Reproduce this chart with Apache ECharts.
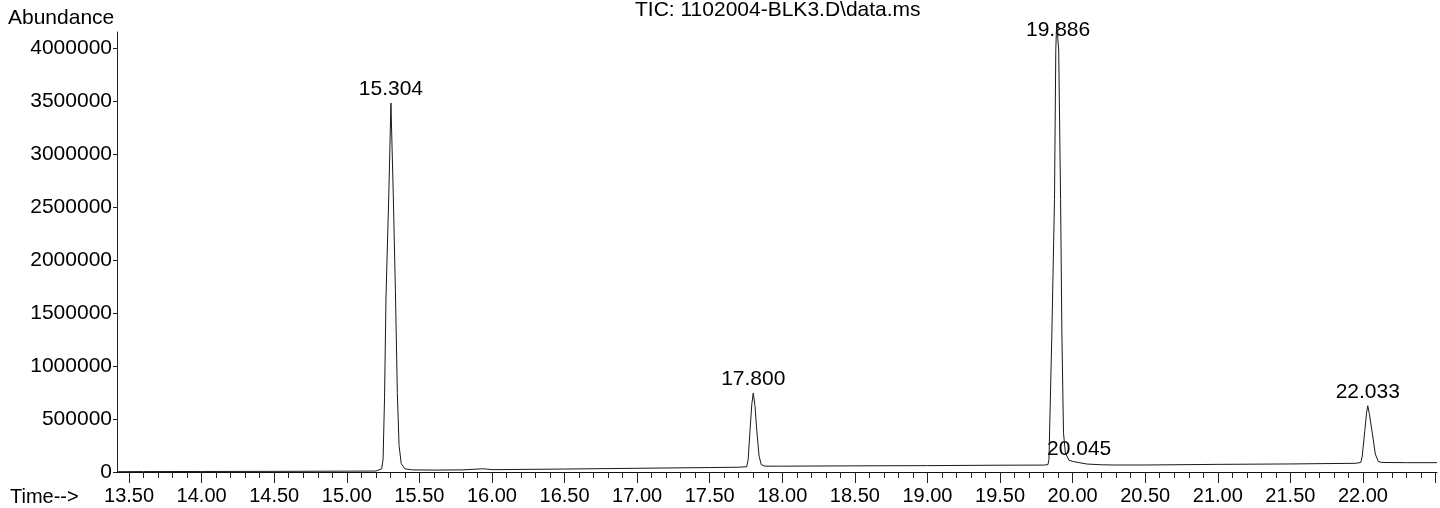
<!DOCTYPE html>
<html>
<head>
<meta charset="utf-8">
<script src="https://cdn.jsdelivr.net/npm/echarts@6/dist/echarts.min.js"></script>
<style>
html,body{margin:0;padding:0;background:#fff;}
#chart{width:1440px;height:508px;}
</style>
</head>
<body>
<div id="chart"></div>
<script>
// Chromatogram (TIC)
const scanTimes = [
  13.417, 13.60, 14.00, 14.50, 15.00, 15.20,
  15.24, 15.25, 15.26, 15.27, 15.29, 15.304, 15.32, 15.335, 15.348, 15.36, 15.375, 15.40, 15.45,
  15.60, 15.80, 15.93, 15.96, 16.00, 16.50, 17.00, 17.50, 17.70,
  17.755, 17.765, 17.778, 17.79, 17.80, 17.812, 17.825, 17.84, 17.855, 17.88,
  18.00, 18.50, 19.00, 19.50, 19.80,
  19.83, 19.837, 19.857, 19.875, 19.884, 19.89, 19.904, 19.917, 19.926, 19.937, 19.95, 19.975,
  20.00, 20.045, 20.10, 20.20, 20.30, 20.50, 21.00, 21.50, 21.95,
  21.985, 21.995, 22.012, 22.025, 22.033, 22.045, 22.065, 22.085, 22.105, 22.13,
  22.30, 22.51
];
const scanAbundance = [
  3000, 4000, 5000, 6000, 8000, 9000,
  30000, 120000, 700000, 1650000, 2650000, 3480000, 2620000, 1700000, 750000, 250000, 80000, 30000, 20000,
  18000, 20000, 30000, 28000, 22000, 28000, 35000, 42000, 45000,
  50000, 120000, 400000, 640000, 745000, 620000, 380000, 150000, 70000, 55000,
  55000, 58000, 60000, 64000, 65000,
  70000, 120000, 1310000, 2570000, 3980000, 4235000, 3980000, 2570000, 1310000, 370000, 180000, 110000,
  100000, 88000, 75000, 68000, 66000, 66000, 72000, 76000, 82000,
  90000, 150000, 380000, 560000, 625000, 540000, 360000, 170000, 100000, 90000,
  88000, 88000
];
const peakTimes   = [15.304, 17.800, 19.886, 20.045, 22.033];
const peakHeights = [3480000, 745000, 4235000, 88000, 625000];
const peakLabels  = ['15.304', '17.800', '19.886', '20.045', '22.033'];
const xTickLabels = ['13.50','14.00','14.50','15.00','15.50','16.00','16.50','17.00','17.50',
                     '18.00','18.50','19.00','19.50','20.00','20.50','21.00','21.50','22.00'];
const yTickLabels = ['0','500000','1000000','1500000','2000000','2500000','3000000','3500000','4000000'];

const FONT = '"Liberation Sans", Arial, sans-serif';
const X_MIN = 13.417, X_MAX = 22.51;
const Y_MAX = 4150000;

const xMajor = xTickLabels.map(Number).concat([22.5]);
const xMinor = [];
for (let i = 135; i <= 225; i++) xMinor.push(i / 10);
const yMajor = yTickLabels.map(Number);

const lineData = scanTimes.map((t, i) => [t, scanAbundance[i]]);
const labelData = peakTimes.map((t, i) => {
  const item = { value: [t, peakHeights[i]], name: peakLabels[i] };
  if (peakHeights[i] > Y_MAX) {
    item.label = { position: 'inside', offset: [2, 7] };
  }
  return item;
});

const chart = echarts.init(document.getElementById('chart'), null, { renderer: 'canvas' });
chart.setOption({
  animation: false,
  backgroundColor: '#ffffff',
  grid: { left: 117, right: 3, top: 32, bottom: 36, containLabel: false, outerBoundsMode: 'none' },
  xAxis: [
    {
      type: 'value', min: X_MIN, max: X_MAX, position: 'bottom',
      axisLine: { show: true, onZero: false, lineStyle: { color: '#111', width: 1 } },
      axisTick: { show: true, customValues: xMinor, length: 6, lineStyle: { color: '#222', width: 1 } },
      axisLabel: { show: false },
      splitLine: { show: false }
    },
    {
      type: 'value', min: X_MIN, max: X_MAX, position: 'bottom', offset: 0,
      axisLine: { show: false, onZero: false },
      axisTick: { show: true, customValues: xMajor, length: 11, lineStyle: { color: '#222', width: 1 } },
      axisLabel: {
        show: true, customValues: xTickLabels.map(Number), margin: 14,
        formatter: v => v.toFixed(2), color: '#000', fontFamily: FONT, fontSize: 20
      },
      splitLine: { show: false }
    }
  ],
  yAxis: {
    type: 'value', min: 0, max: Y_MAX,
    axisLine: { show: true, onZero: false, lineStyle: { color: '#222', width: 1 } },
    axisTick: { show: true, customValues: yMajor, length: 4, lineStyle: { color: '#222' } },
    axisLabel: {
      show: true, customValues: yMajor, margin: 5,
      formatter: v => String(v), color: '#000', fontFamily: FONT, fontSize: 21
    },
    splitLine: { show: false }
  },
  graphic: [
    { type: 'text', left: 8, top: 8, style: { text: 'Abundance', font: '21px ' + FONT, fill: '#000' } },
    { type: 'text', left: 10, top: 487, style: { text: 'Time-->', font: '20px ' + FONT, fill: '#000' } },
    { type: 'text', left: 635, top: 0, style: { text: 'TIC: 1102004-BLK3.D\\data.ms', font: '21px ' + FONT, fill: '#000' } }
  ],
  series: [
    {
      type: 'line', xAxisIndex: 0, data: lineData, showSymbol: false, clip: false,
      lineStyle: { color: '#1a1a1a', width: 1 }, silent: true
    },
    {
      type: 'scatter', xAxisIndex: 0, data: labelData, symbolSize: 0, clip: false, silent: true,
      itemStyle: { opacity: 1, color: '#000' },
      label: {
        show: true, position: 'top', distance: 3, opacity: 1,
        formatter: p => p.name, color: '#000', fontFamily: FONT, fontSize: 21
      }
    }
  ]
});
</script>
</body>
</html>
